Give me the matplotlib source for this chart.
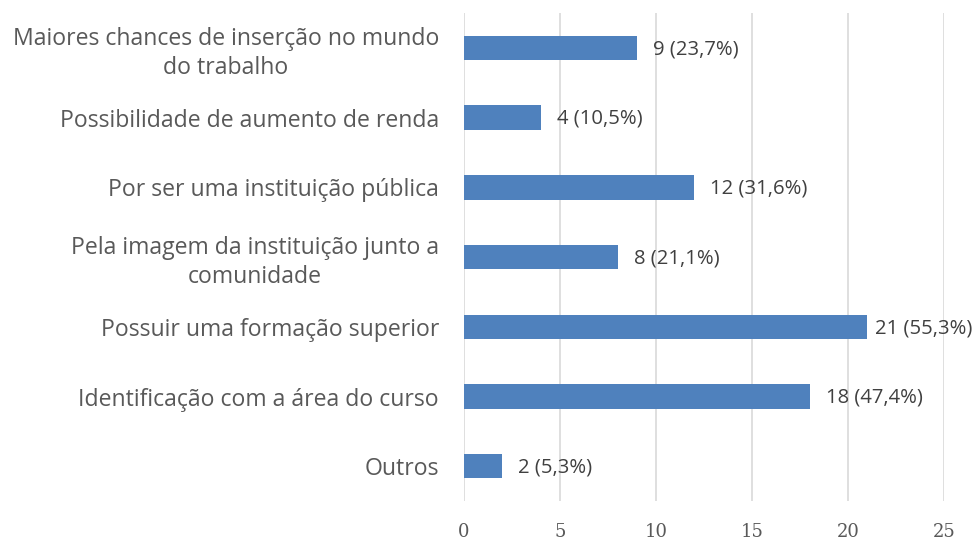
import matplotlib
matplotlib.use('Agg')
import matplotlib.pyplot as plt

# Data (top to bottom as shown)
categories = [
    'Maiores chances de inserção no mundo\ndo trabalho',
    'Possibilidade de aumento de renda',
    'Por ser uma instituição pública',
    'Pela imagem da instituição junto a\ncomunidade',
    'Possuir uma formação superior',
    'Identificação com a área do curso',
    'Outros',
]
counts = [9, 4, 12, 8, 21, 18, 2]
value_labels = ['9 (23,7%)', '4 (10,5%)', '12 (31,6%)', '8 (21,1%)',
                '21 (55,3%)', '18 (47,4%)', '2 (5,3%)']
x_ticks = [0, 5, 10, 15, 20, 25]

fig = plt.figure(figsize=(9.78, 5.4), dpi=100)
ax = fig.add_axes([0.4744, 0.072, 0.4908, 0.904])

y = list(range(len(categories)))
ax.barh(y, counts, height=0.35, color='#4F81BD', zorder=3)

for yi, c, lab in zip(y, counts, value_labels):
    # the longest bar's label is pushed in so it stays inside the figure
    dx = 6 if c == max(counts) else 11.5
    ax.annotate(lab, (c, yi), xytext=(dx, -1), textcoords='offset points',
                va='center', ha='left', fontsize=14.6, color='#404040',
                family='Open Sans')

ax.set_yticks(y)
ax.set_yticklabels(categories, fontsize=16.6, color='#595959', family='Open Sans',
                   multialignment='center', linespacing=1.3)
ax.set_ylim(len(categories) - 0.5, -0.5)
ax.set_xlim(0, 25)
ax.set_xticks(x_ticks)
ax.set_xticklabels([str(t) for t in x_ticks], fontsize=13, color='#595959',
                   family='DejaVu Serif')
ax.tick_params(axis='y', length=0, pad=18)
ax.tick_params(axis='x', length=0, pad=16)
ax.grid(axis='x', color='#D9D9D9', linewidth=1.2, zorder=0)
for s in ax.spines.values():
    s.set_visible(False)

plt.savefig('out.png', dpi=100)
plt.close()
